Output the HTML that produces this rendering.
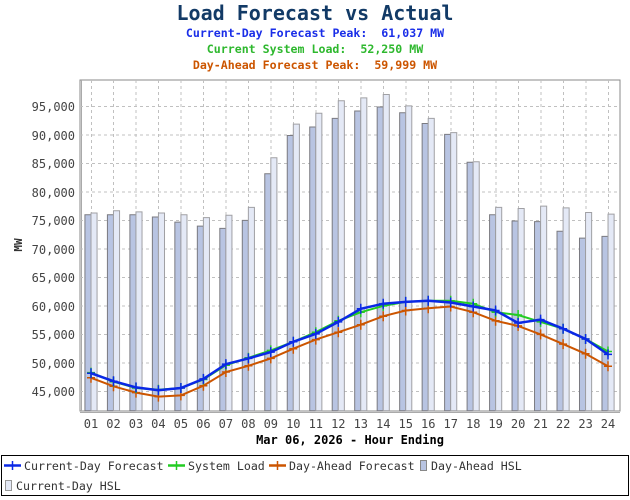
<!DOCTYPE html>
<html><head><meta charset="utf-8"><style>
html,body{margin:0;padding:0;background:#fff;}
svg{display:block;font-family:"DejaVu Sans Mono","Liberation Mono",monospace;}
</style></head><body>
<svg width="630" height="500" viewBox="0 0 630 500" xmlns="http://www.w3.org/2000/svg">
<defs>
<marker id="mb" markerUnits="userSpaceOnUse" markerWidth="12" markerHeight="12" refX="0" refY="0" overflow="visible"><path d="M-4 0H4M0 -5V5" stroke="#0a28e6" stroke-width="1.5"/></marker>
<marker id="mg" markerUnits="userSpaceOnUse" markerWidth="12" markerHeight="12" refX="0" refY="0" overflow="visible"><path d="M-4 0H4M0 -5V5" stroke="#22cc22" stroke-width="1.5"/></marker>
<marker id="mo" markerUnits="userSpaceOnUse" markerWidth="12" markerHeight="12" refX="0" refY="0" overflow="visible"><path d="M-4 0H4M0 -5V5" stroke="#cc5500" stroke-width="1.5"/></marker>
</defs>
<g font-weight="bold" text-anchor="middle">
<text x="315" y="20" font-size="20" fill="#123a66">Load Forecast vs Actual</text>
<text x="315" y="37" font-size="11.6" fill="#1a2ee8">Current-Day Forecast Peak:&#160;&#160;61,037 MW</text>
<text x="315" y="53" font-size="11.6" fill="#2eb82e">Current System Load:&#160;&#160;52,250 MW</text>
<text x="315" y="69" font-size="11.6" fill="#cc5500">Day-Ahead Forecast Peak:&#160;&#160;59,999 MW</text>
</g>
<rect x="80" y="80" width="540" height="331" fill="#fff" stroke="#888" stroke-width="1"/>
<line x1="81.5" y1="80" x2="81.5" y2="411" stroke="#aaa"/>
<g stroke="#c0c0c0" stroke-dasharray="3,3" stroke-width="1">
<line x1="80" x2="620" y1="106.5" y2="106.5"/><line x1="80" x2="620" y1="135" y2="135"/><line x1="80" x2="620" y1="163.5" y2="163.5"/><line x1="80" x2="620" y1="192" y2="192"/><line x1="80" x2="620" y1="220.5" y2="220.5"/><line x1="80" x2="620" y1="249" y2="249"/><line x1="80" x2="620" y1="277.5" y2="277.5"/><line x1="80" x2="620" y1="306" y2="306"/><line x1="80" x2="620" y1="334.5" y2="334.5"/><line x1="80" x2="620" y1="363" y2="363"/><line x1="80" x2="620" y1="391.5" y2="391.5"/>
<line y1="80" y2="411" x1="91.5" x2="91.5"/><line y1="80" y2="411" x1="113.5" x2="113.5"/><line y1="80" y2="411" x1="136" x2="136"/><line y1="80" y2="411" x1="158.5" x2="158.5"/><line y1="80" y2="411" x1="181" x2="181"/><line y1="80" y2="411" x1="203.5" x2="203.5"/><line y1="80" y2="411" x1="226" x2="226"/><line y1="80" y2="411" x1="248.5" x2="248.5"/><line y1="80" y2="411" x1="271" x2="271"/><line y1="80" y2="411" x1="293.5" x2="293.5"/><line y1="80" y2="411" x1="316" x2="316"/><line y1="80" y2="411" x1="338.5" x2="338.5"/><line y1="80" y2="411" x1="361" x2="361"/><line y1="80" y2="411" x1="383.5" x2="383.5"/><line y1="80" y2="411" x1="406" x2="406"/><line y1="80" y2="411" x1="428.5" x2="428.5"/><line y1="80" y2="411" x1="451" x2="451"/><line y1="80" y2="411" x1="473.5" x2="473.5"/><line y1="80" y2="411" x1="496" x2="496"/><line y1="80" y2="411" x1="518.5" x2="518.5"/><line y1="80" y2="411" x1="541" x2="541"/><line y1="80" y2="411" x1="563.5" x2="563.5"/><line y1="80" y2="411" x1="586" x2="586"/><line y1="80" y2="411" x1="608.5" x2="608.5"/>
</g>
<g transform="matrix(22.48 0 0 -5.7 68.52 648.5)">
<g fill="#b8c4e2" stroke="#7a7a80" stroke-width="1">
<rect vector-effect="non-scaling-stroke" x="0.73" width="0.27" y="41.7" height="34.4"/>
<rect vector-effect="non-scaling-stroke" x="1.73" width="0.27" y="41.7" height="34.4"/>
<rect vector-effect="non-scaling-stroke" x="2.73" width="0.27" y="41.7" height="34.4"/>
<rect vector-effect="non-scaling-stroke" x="3.73" width="0.27" y="41.7" height="34.0"/>
<rect vector-effect="non-scaling-stroke" x="4.73" width="0.27" y="41.7" height="33.1"/>
<rect vector-effect="non-scaling-stroke" x="5.73" width="0.27" y="41.7" height="32.4"/>
<rect vector-effect="non-scaling-stroke" x="6.73" width="0.27" y="41.7" height="32.0"/>
<rect vector-effect="non-scaling-stroke" x="7.73" width="0.27" y="41.7" height="33.4"/>
<rect vector-effect="non-scaling-stroke" x="8.73" width="0.27" y="41.7" height="41.6"/>
<rect vector-effect="non-scaling-stroke" x="9.73" width="0.27" y="41.7" height="48.3"/>
<rect vector-effect="non-scaling-stroke" x="10.73" width="0.27" y="41.7" height="49.8"/>
<rect vector-effect="non-scaling-stroke" x="11.73" width="0.27" y="41.7" height="51.3"/>
<rect vector-effect="non-scaling-stroke" x="12.73" width="0.27" y="41.7" height="52.6"/>
<rect vector-effect="non-scaling-stroke" x="13.73" width="0.27" y="41.7" height="53.3"/>
<rect vector-effect="non-scaling-stroke" x="14.73" width="0.27" y="41.7" height="52.3"/>
<rect vector-effect="non-scaling-stroke" x="15.73" width="0.27" y="41.7" height="50.4"/>
<rect vector-effect="non-scaling-stroke" x="16.73" width="0.27" y="41.7" height="48.5"/>
<rect vector-effect="non-scaling-stroke" x="17.73" width="0.27" y="41.7" height="43.6"/>
<rect vector-effect="non-scaling-stroke" x="18.73" width="0.27" y="41.7" height="34.4"/>
<rect vector-effect="non-scaling-stroke" x="19.73" width="0.27" y="41.7" height="33.3"/>
<rect vector-effect="non-scaling-stroke" x="20.73" width="0.27" y="41.7" height="33.2"/>
<rect vector-effect="non-scaling-stroke" x="21.73" width="0.27" y="41.7" height="31.5"/>
<rect vector-effect="non-scaling-stroke" x="22.73" width="0.27" y="41.7" height="30.3"/>
<rect vector-effect="non-scaling-stroke" x="23.73" width="0.27" y="41.7" height="30.6"/>
</g>
<g fill="#e4e9f6" stroke="#a0a0a4" stroke-width="1">
<rect vector-effect="non-scaling-stroke" x="1" width="0.27" y="41.7" height="34.7"/>
<rect vector-effect="non-scaling-stroke" x="2" width="0.27" y="41.7" height="35.1"/>
<rect vector-effect="non-scaling-stroke" x="3" width="0.27" y="41.7" height="34.9"/>
<rect vector-effect="non-scaling-stroke" x="4" width="0.27" y="41.7" height="34.7"/>
<rect vector-effect="non-scaling-stroke" x="5" width="0.27" y="41.7" height="34.4"/>
<rect vector-effect="non-scaling-stroke" x="6" width="0.27" y="41.7" height="33.9"/>
<rect vector-effect="non-scaling-stroke" x="7" width="0.27" y="41.7" height="34.3"/>
<rect vector-effect="non-scaling-stroke" x="8" width="0.27" y="41.7" height="35.7"/>
<rect vector-effect="non-scaling-stroke" x="9" width="0.27" y="41.7" height="44.4"/>
<rect vector-effect="non-scaling-stroke" x="10" width="0.27" y="41.7" height="50.3"/>
<rect vector-effect="non-scaling-stroke" x="11" width="0.27" y="41.7" height="52.2"/>
<rect vector-effect="non-scaling-stroke" x="12" width="0.27" y="41.7" height="54.4"/>
<rect vector-effect="non-scaling-stroke" x="13" width="0.27" y="41.7" height="54.9"/>
<rect vector-effect="non-scaling-stroke" x="14" width="0.27" y="41.7" height="55.5"/>
<rect vector-effect="non-scaling-stroke" x="15" width="0.27" y="41.7" height="53.5"/>
<rect vector-effect="non-scaling-stroke" x="16" width="0.27" y="41.7" height="51.3"/>
<rect vector-effect="non-scaling-stroke" x="17" width="0.27" y="41.7" height="48.8"/>
<rect vector-effect="non-scaling-stroke" x="18" width="0.27" y="41.7" height="43.7"/>
<rect vector-effect="non-scaling-stroke" x="19" width="0.27" y="41.7" height="35.7"/>
<rect vector-effect="non-scaling-stroke" x="20" width="0.27" y="41.7" height="35.5"/>
<rect vector-effect="non-scaling-stroke" x="21" width="0.27" y="41.7" height="35.9"/>
<rect vector-effect="non-scaling-stroke" x="22" width="0.27" y="41.7" height="35.6"/>
<rect vector-effect="non-scaling-stroke" x="23" width="0.27" y="41.7" height="34.8"/>
<rect vector-effect="non-scaling-stroke" x="24" width="0.27" y="41.7" height="34.5"/>
</g>
</g>
<polyline fill="none" stroke="#cc5500" stroke-width="2" marker-start="url(#mo)" marker-mid="url(#mo)" marker-end="url(#mo)" points="91,377.8 113.5,386.3 136,392.6 158.4,396.6 180.9,395.4 203.4,385.7 225.9,372 248.4,365.8 270.8,358.4 293.3,348.7 315.8,339.6 338.3,332.2 360.8,324.7 383.2,316.2 405.7,310.5 428.2,308.2 450.7,306.5 473.2,312.2 495.6,320.8 518.1,325.9 540.6,334.4 563.1,344.1 585.6,353.8 608,366.3"/>
<polyline fill="none" stroke="#22cc22" stroke-width="2" marker-start="url(#mg)" marker-mid="url(#mg)" marker-end="url(#mg)" points="91,372.6 113.5,381.7 136,388 158.4,389.7 180.9,388 203.4,379.5 225.9,365.2 248.4,357.8 270.8,350.4 293.3,341.8 315.8,332.2 338.3,320.8 360.8,312.2 383.2,305.9 405.7,301.9 428.2,300.8 450.7,300.8 473.2,303.7 495.6,312.2 518.1,315 540.6,321.9 563.1,328.7 585.6,339 608,351.5"/>
<polyline fill="none" stroke="#0a28e6" stroke-width="2.5" marker-start="url(#mb)" marker-mid="url(#mb)" marker-end="url(#mb)" points="91,373.2 113.5,381.2 136,387.4 158.4,390.3 180.9,388 203.4,378.9 225.9,364.1 248.4,358.4 270.8,352.1 293.3,341.8 315.8,333.9 338.3,321.9 360.8,308.8 383.2,303.7 405.7,301.9 428.2,300.8 450.7,302.5 473.2,306.5 495.6,310.5 518.1,323 540.6,319.6 563.1,328.7 585.6,339 608,354.4"/>
<line x1="80" x2="620" y1="412.5" y2="412.5" stroke="#aaa"/>
<g font-size="12" fill="#444" text-anchor="end">
<text x="75" y="111">95,000</text><text x="75" y="140">90,000</text><text x="75" y="168">85,000</text><text x="75" y="197">80,000</text><text x="75" y="225">75,000</text><text x="75" y="254">70,000</text><text x="75" y="282">65,000</text><text x="75" y="311">60,000</text><text x="75" y="339">55,000</text><text x="75" y="368">50,000</text><text x="75" y="396">45,000</text>
</g>
<text transform="translate(22,245) rotate(-90)" font-size="11" font-weight="bold" fill="#333" text-anchor="middle">MW</text>
<g font-size="12" fill="#444" text-anchor="middle">
<text x="91" y="428">01</text><text x="113.5" y="428">02</text><text x="136" y="428">03</text><text x="158.4" y="428">04</text><text x="180.9" y="428">05</text><text x="203.4" y="428">06</text><text x="225.9" y="428">07</text><text x="248.4" y="428">08</text><text x="270.8" y="428">09</text><text x="293.3" y="428">10</text><text x="315.8" y="428">11</text><text x="338.3" y="428">12</text><text x="360.8" y="428">13</text><text x="383.2" y="428">14</text><text x="405.7" y="428">15</text><text x="428.2" y="428">16</text><text x="450.7" y="428">17</text><text x="473.2" y="428">18</text><text x="495.6" y="428">19</text><text x="518.1" y="428">20</text><text x="540.6" y="428">21</text><text x="563.1" y="428">22</text><text x="585.6" y="428">23</text><text x="608" y="428">24</text>
</g>
<text x="350" y="444" font-size="12" font-weight="bold" fill="#000" text-anchor="middle">Mar 06, 2026 - Hour Ending</text>
<rect x="1.5" y="455.5" width="627" height="40" fill="#fff" stroke="#000"/>
<g stroke-width="2.5">
<line x1="4" x2="21" y1="465.5" y2="465.5" stroke="#0a28e6"/><line x1="12.5" x2="12.5" y1="461" y2="470" stroke="#0a28e6" stroke-width="1.5"/>
<line x1="168" x2="185" y1="465.5" y2="465.5" stroke="#22cc22"/><line x1="176.5" x2="176.5" y1="461" y2="470" stroke="#22cc22" stroke-width="1.5"/>
<line x1="269" x2="286" y1="465.5" y2="465.5" stroke="#cc5500"/><line x1="277.5" x2="277.5" y1="461" y2="470" stroke="#cc5500" stroke-width="1.5"/>
</g>
<rect x="420.5" y="460.5" width="6" height="10" fill="#b8c4e2" stroke="#888"/>
<rect x="5.5" y="480.5" width="6" height="10" fill="#e4e9f6" stroke="#999"/>
<g font-size="11.6" fill="#333">
<text x="24" y="470">Current-Day Forecast</text>
<text x="188" y="470">System Load</text>
<text x="289" y="470">Day-Ahead Forecast</text>
<text x="431" y="470">Day-Ahead HSL</text>
<text x="16" y="490">Current-Day HSL</text>
</g>
</svg>
</body></html>
